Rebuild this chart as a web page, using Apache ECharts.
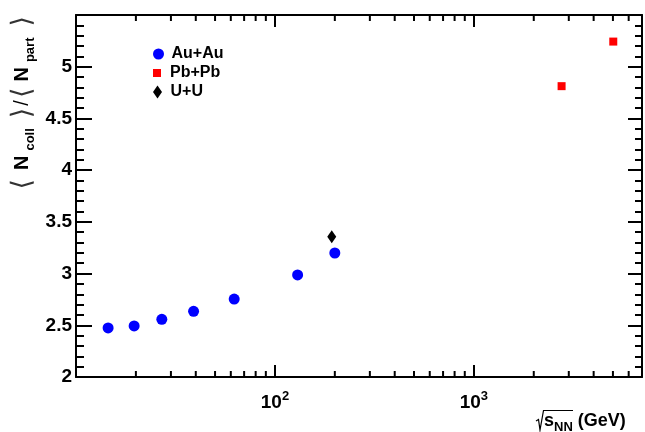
<!DOCTYPE html>
<html><head><meta charset="utf-8">
<script src="https://cdn.jsdelivr.net/npm/echarts@6/dist/echarts.min.js"></script>
<style>html,body{margin:0;padding:0;background:#fff}#c{width:645px;height:432px}</style>
</head><body><div id="c"></div>
<script>
// ---- data ----
const auAuEnergy = [14.5, 19.6, 27, 39, 62.4, 130, 200];
const auAuRatio  = [2.474, 2.494, 2.558, 2.635, 2.753, 2.987, 3.199];
const pbPbEnergy = [2760, 5020];
const pbPbRatio  = [4.812, 5.243];
const uuEnergy   = [193];
const uuRatio    = [3.356];
const xMinorTicks = [20,30,40,50,60,70,80,90,200,300,400,500,600,700,800,900,2000,3000,4000,5000,6000];
const xTickLabels = {2:'2', 3:'3'};
const seriesNames = ['Au+Au', 'Pb+Pb', 'U+U'];

const X_MIN = 10, X_MAX = 7000, Y_MIN = 2, Y_MAX = 5.5;
const F = '"Liberation Sans", Arial, Helvetica, sans-serif';

const chart = echarts.init(document.getElementById('c'), null, {renderer:'canvas'});
const pair = (xs, ys) => xs.map((x, i) => [x, ys[i]]);

const lineSt = {color:'#000', width:2};
const legendBase = {
  orient:'vertical', padding:0, itemGap:0, itemWidth:16, left:153,
  textStyle:{fontSize:16, fontWeight:'bold', color:'#000', fontFamily:F},
  selectedMode:false
};
const gap = w => ({width:w, fontSize:10, lineHeight:28, verticalAlign:'middle'});

chart.setOption({
  animation:false,
  backgroundColor:'#fff',
  grid:{left:76, right:3, top:15, bottom:55, containLabel:false, outerBoundsMode:'none'},
  xAxis:[{
    type:'log', logBase:10, min:X_MIN, max:X_MAX, position:'bottom',
    axisLine:{show:true, onZero:false, lineStyle:lineSt},
    axisTick:{show:true, inside:true, length:12, lineStyle:lineSt},
    splitLine:{show:false},
    axisLabel:{
      show:true, margin:13,
      formatter:function(v){
        const e = Math.log10(v), r = Math.round(e);
        if (Math.abs(e - r) < 1e-6 && xTickLabels[r]) return '{a|10}{b|' + xTickLabels[r] + '}';
        return '';
      },
      rich:{
        a:{fontSize:19, fontWeight:'bold', color:'#000', fontFamily:F, lineHeight:26, verticalAlign:'middle'},
        b:{fontSize:13, fontWeight:'bold', color:'#000', fontFamily:F, lineHeight:14, verticalAlign:'top'}
      }
    }
  },{
    type:'log', logBase:10, min:X_MIN, max:X_MAX, position:'top',
    axisLine:{show:true, onZero:false, lineStyle:lineSt},
    axisTick:{show:true, inside:true, length:12, lineStyle:lineSt},
    splitLine:{show:false}, axisLabel:{show:false}
  }],
  yAxis:[{
    type:'value', min:Y_MIN, max:Y_MAX, interval:0.5, position:'left',
    axisLine:{show:true, onZero:false, lineStyle:lineSt},
    axisTick:{show:true, inside:true, length:16, lineStyle:lineSt},
    minorTick:{show:true, splitNumber:5, length:8, lineStyle:lineSt},
    splitLine:{show:false}, minorSplitLine:{show:false},
    axisLabel:{
      show:true, margin:4, fontSize:19, fontWeight:'bold', color:'#000', fontFamily:F,
      padding:[6,0,0,0],
      formatter:function(v){ return v > 5.01 ? '' : String(v); }
    }
  },{
    type:'value', min:Y_MIN, max:Y_MAX, interval:0.5, position:'right',
    axisLine:{show:true, onZero:false, lineStyle:lineSt},
    axisTick:{show:true, inside:true, length:14, lineStyle:lineSt},
    minorTick:{show:true, splitNumber:5, length:7, lineStyle:lineSt},
    splitLine:{show:false}, minorSplitLine:{show:false}, axisLabel:{show:false}
  }],
  legend:[
    Object.assign({}, legendBase, {top:46, itemHeight:11, data:[{name:seriesNames[0], icon:'circle'}]}),
    Object.assign({}, legendBase, {top:65, itemHeight:8, data:[{name:seriesNames[1], icon:'path://M0,0L8,0L8,8L0,8Z'}]}),
    Object.assign({}, legendBase, {top:84, itemHeight:13, data:[{name:seriesNames[2], icon:'path://M4.5,0L9,6.5L4.5,13L0,6.5Z'}]})
  ],
  series:[
    {
      name:'minorTicks', type:'custom', xAxisIndex:0, yAxisIndex:0, silent:true, clip:false, z:1,
      data: xMinorTicks.map(v => [v, Y_MIN]),
      encode:{x:0, y:1},
      renderItem:function(params, api){
        const v = api.value(0);
        const b = api.coord([v, Y_MIN]);
        const t = api.coord([v, Y_MAX]);
        return {type:'group', children:[
          {type:'line', shape:{x1:b[0], y1:b[1], x2:b[0], y2:b[1]-6}, style:{stroke:'#000', lineWidth:2}},
          {type:'line', shape:{x1:t[0], y1:t[1], x2:t[0], y2:t[1]+6}, style:{stroke:'#000', lineWidth:2}}
        ]};
      }
    },
    {name:seriesNames[0], type:'scatter', symbol:'circle', symbolSize:11, z:5,
     itemStyle:{color:'#0000ff', opacity:1}, data:pair(auAuEnergy, auAuRatio)},
    {name:seriesNames[1], type:'scatter', symbol:'rect', symbolSize:8, z:5,
     itemStyle:{color:'#ff0000', opacity:1}, data:pair(pbPbEnergy, pbPbRatio)},
    {name:seriesNames[2], type:'scatter', symbol:'diamond', symbolSize:[9,13], z:5,
     itemStyle:{color:'#000000', opacity:1}, data:pair(uuEnergy, uuRatio)}
  ],
  graphic:[
    {type:'text', x:22.5, y:16, rotation:Math.PI/2, z:10,
     style:{
       text:'{b|⟨}{g9| }{n|N}{g5| }{s|coll}{g10| }{b|⟩}{g2| }{sl|/}{g2| }{b|⟨}{g6| }{n|N}{g5| }{s|part}{g11| }{b|⟩}',
       align:'right', verticalAlign:'middle',
       rich:{
         b:{fontSize:27, fontFamily:'"DejaVu Sans", sans-serif', fill:'#333', lineHeight:28, verticalAlign:'middle'},
         g2:gap(2), g5:gap(5), g6:gap(6), g9:gap(9), g10:gap(10), g11:gap(11),
         sl:{fontSize:20, fontFamily:F, fill:'#000', lineHeight:28, verticalAlign:'middle'},
         n:{fontSize:20, fontWeight:'bold', fontFamily:F, fill:'#000', lineHeight:28, verticalAlign:'middle'},
         s:{fontSize:13, fontWeight:'bold', fontFamily:F, fill:'#000', lineHeight:15, verticalAlign:'bottom'}
       }
     }},
    {type:'polyline', z:10,
     shape:{points:[[536,421],[538.5,419.5],[540,430],[543.5,410.5],[573,410.5]]},
     style:{stroke:'#000', lineWidth:1.2, fill:null}},
    {type:'text', x:544, y:420.7, z:10,
     style:{
       text:'{m|s}{sub|NN}{m| (GeV)}', align:'left', verticalAlign:'middle',
       rich:{
         m:{fontSize:18, fontWeight:'bold', fontFamily:F, fill:'#000', lineHeight:26, verticalAlign:'middle'},
         sub:{fontSize:13, fontWeight:'bold', fontFamily:F, fill:'#000', lineHeight:14, verticalAlign:'bottom'}
       }
     }}
  ]
});
</script>
</body></html>
